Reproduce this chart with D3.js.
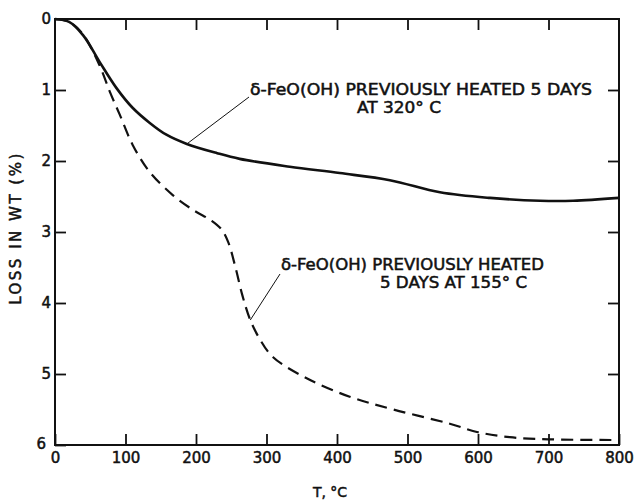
<!DOCTYPE html>
<html>
<head>
<meta charset="utf-8">
<script src="https://cdn.jsdelivr.net/npm/d3@7"></script>
<style>
body { margin: 0; background: #fff; }
svg text { font-family: 'DejaVu Sans', sans-serif; fill: #111; stroke: #111; stroke-width: 0.5px; }
</style>
</head>
<body>
<svg id="chart" width="637" height="501"></svg>
<script>
// data
var tempA = [0, 20, 40, 63, 87, 110, 134, 158, 187, 230, 262, 333, 404, 475, 546, 617, 688, 735, 800];
var lossA = [0, 0.04, 0.23, 0.6, 0.97, 1.25, 1.46, 1.63, 1.76, 1.89, 1.97, 2.08, 2.17, 2.27, 2.44, 2.52, 2.56, 2.56, 2.52];

var tempB = [0, 20, 40, 63, 78, 92, 110, 134, 167, 196, 222, 236, 246, 256, 266, 277, 290, 309, 357, 418, 480, 560, 600, 645, 700, 800];
var lossB = [0, 0.04, 0.22, 0.65, 1.03, 1.35, 1.77, 2.15, 2.48, 2.69, 2.84, 2.96, 3.15, 3.5, 3.9, 4.24, 4.5, 4.76, 5.06, 5.32, 5.5, 5.7, 5.82, 5.89, 5.92, 5.93];

var xTicks = [0, 100, 200, 300, 400, 500, 600, 700, 800];
var yTicks = [0, 1, 2, 3, 4, 5, 6];

var labelA = ['\u03b4-FeO(OH) PREVIOUSLY HEATED 5 DAYS', 'AT 320\u00b0 C'];
var labelB = ['\u03b4-FeO(OH) PREVIOUSLY HEATED', '5 DAYS AT 155\u00b0 C'];

var svg = d3.select('#chart');
var x = d3.scaleLinear().domain([0, 800]).range([55, 619]);
var y = d3.scaleLinear().domain([0, 6]).range([19, 445]);
var fmt = d3.format('d');

// axes, ticks pointing inside
var gx = svg.append('g').attr('transform', 'translate(0,' + y(6) + ')')
    .call(d3.axisBottom(x).tickValues(xTicks).tickSize(-11).tickPadding(7).tickFormat(fmt));
var gxt = svg.append('g').attr('transform', 'translate(0,' + y(0) + ')')
    .call(d3.axisTop(x).tickValues(xTicks.slice(1, -1)).tickSize(-11).tickFormat(''));
var gy = svg.append('g').attr('transform', 'translate(' + x(0) + ',0)')
    .call(d3.axisLeft(y).tickValues(yTicks).tickSize(-11).tickPadding(4).tickFormat(fmt));
var gyr = svg.append('g').attr('transform', 'translate(' + x(800) + ',0)')
    .call(d3.axisRight(y).tickValues(yTicks.slice(1, -1)).tickSize(-11).tickFormat(''));

[gx, gxt, gy, gyr].forEach(function(g)
{
    g.select('.domain').remove();
    g.selectAll('.tick line').attr('stroke', '#111').attr('stroke-width', 1.8);
    g.selectAll('text').style('font-size', '15px').style('font-family', "'DejaVu Sans', sans-serif")
        .attr('fill', '#111');
});

// frame
svg.append('rect')
    .attr('x', x(0)).attr('y', y(0))
    .attr('width', x(800) - x(0)).attr('height', y(6) - y(0))
    .attr('fill', 'none').attr('stroke', '#111').attr('stroke-width', 2);

// the "6" sits a bit left of the corner
gy.selectAll('.tick').filter(function(d) { return d === 6; }).select('text')
    .attr('x', -9).attr('dy', '0.2em');

var line = d3.line()
    .x(function(d) { return x(d[0]); })
    .y(function(d) { return y(d[1]); })
    .curve(d3.curveCatmullRom.alpha(0.5));

var ptsA = tempA.map(function(t, i) { return [t, lossA[i]]; });
var ptsB = tempB.map(function(t, i) { return [t, lossB[i]]; });

svg.append('path').datum(ptsA).attr('d', line)
    .attr('fill', 'none').attr('stroke', '#111').attr('stroke-width', 2.6);
svg.append('path').datum(ptsB).attr('d', line)
    .attr('fill', 'none').attr('stroke', '#111').attr('stroke-width', 2.2)
    .attr('stroke-dasharray', '12,7');

// leaders and labels
var ax = x(187), ay = y(1.76);
svg.append('line').attr('x1', ax).attr('y1', ay).attr('x2', 249).attr('y2', 97)
    .attr('stroke', '#111').attr('stroke-width', 1);
var bx = x(277), by = y(4.24);
svg.append('line').attr('x1', bx).attr('y1', by).attr('x2', 280).attr('y2', 274)
    .attr('stroke', '#111').attr('stroke-width', 1);

function label(lines, x0, y0, x1, w0, w1)
{
    svg.append('text').attr('x', x0).attr('y', y0)
        .attr('textLength', w0).attr('lengthAdjust', 'spacingAndGlyphs')
        .style('font-size', '15px')
        .text(lines[0]);
    svg.append('text').attr('x', x1).attr('y', y0 + 18)
        .attr('textLength', w1).attr('lengthAdjust', 'spacingAndGlyphs')
        .style('font-size', '15px')
        .text(lines[1]);
}
label(labelA, 250, 95, 357, 342, 84);
label(labelB, 281, 270, 380, 263, 147);

// axis titles
svg.append('text').attr('transform', 'translate(21,228) rotate(-90)')
    .attr('text-anchor', 'middle')
    .style('font-size', '15px').style('letter-spacing', '2.5px')
    .text('LOSS IN WT (%)');
svg.append('text').attr('x', 330).attr('y', 497).attr('text-anchor', 'middle')
    .style('font-size', '14px')
    .text('T, \u00b0C');
</script>
</body>
</html>
